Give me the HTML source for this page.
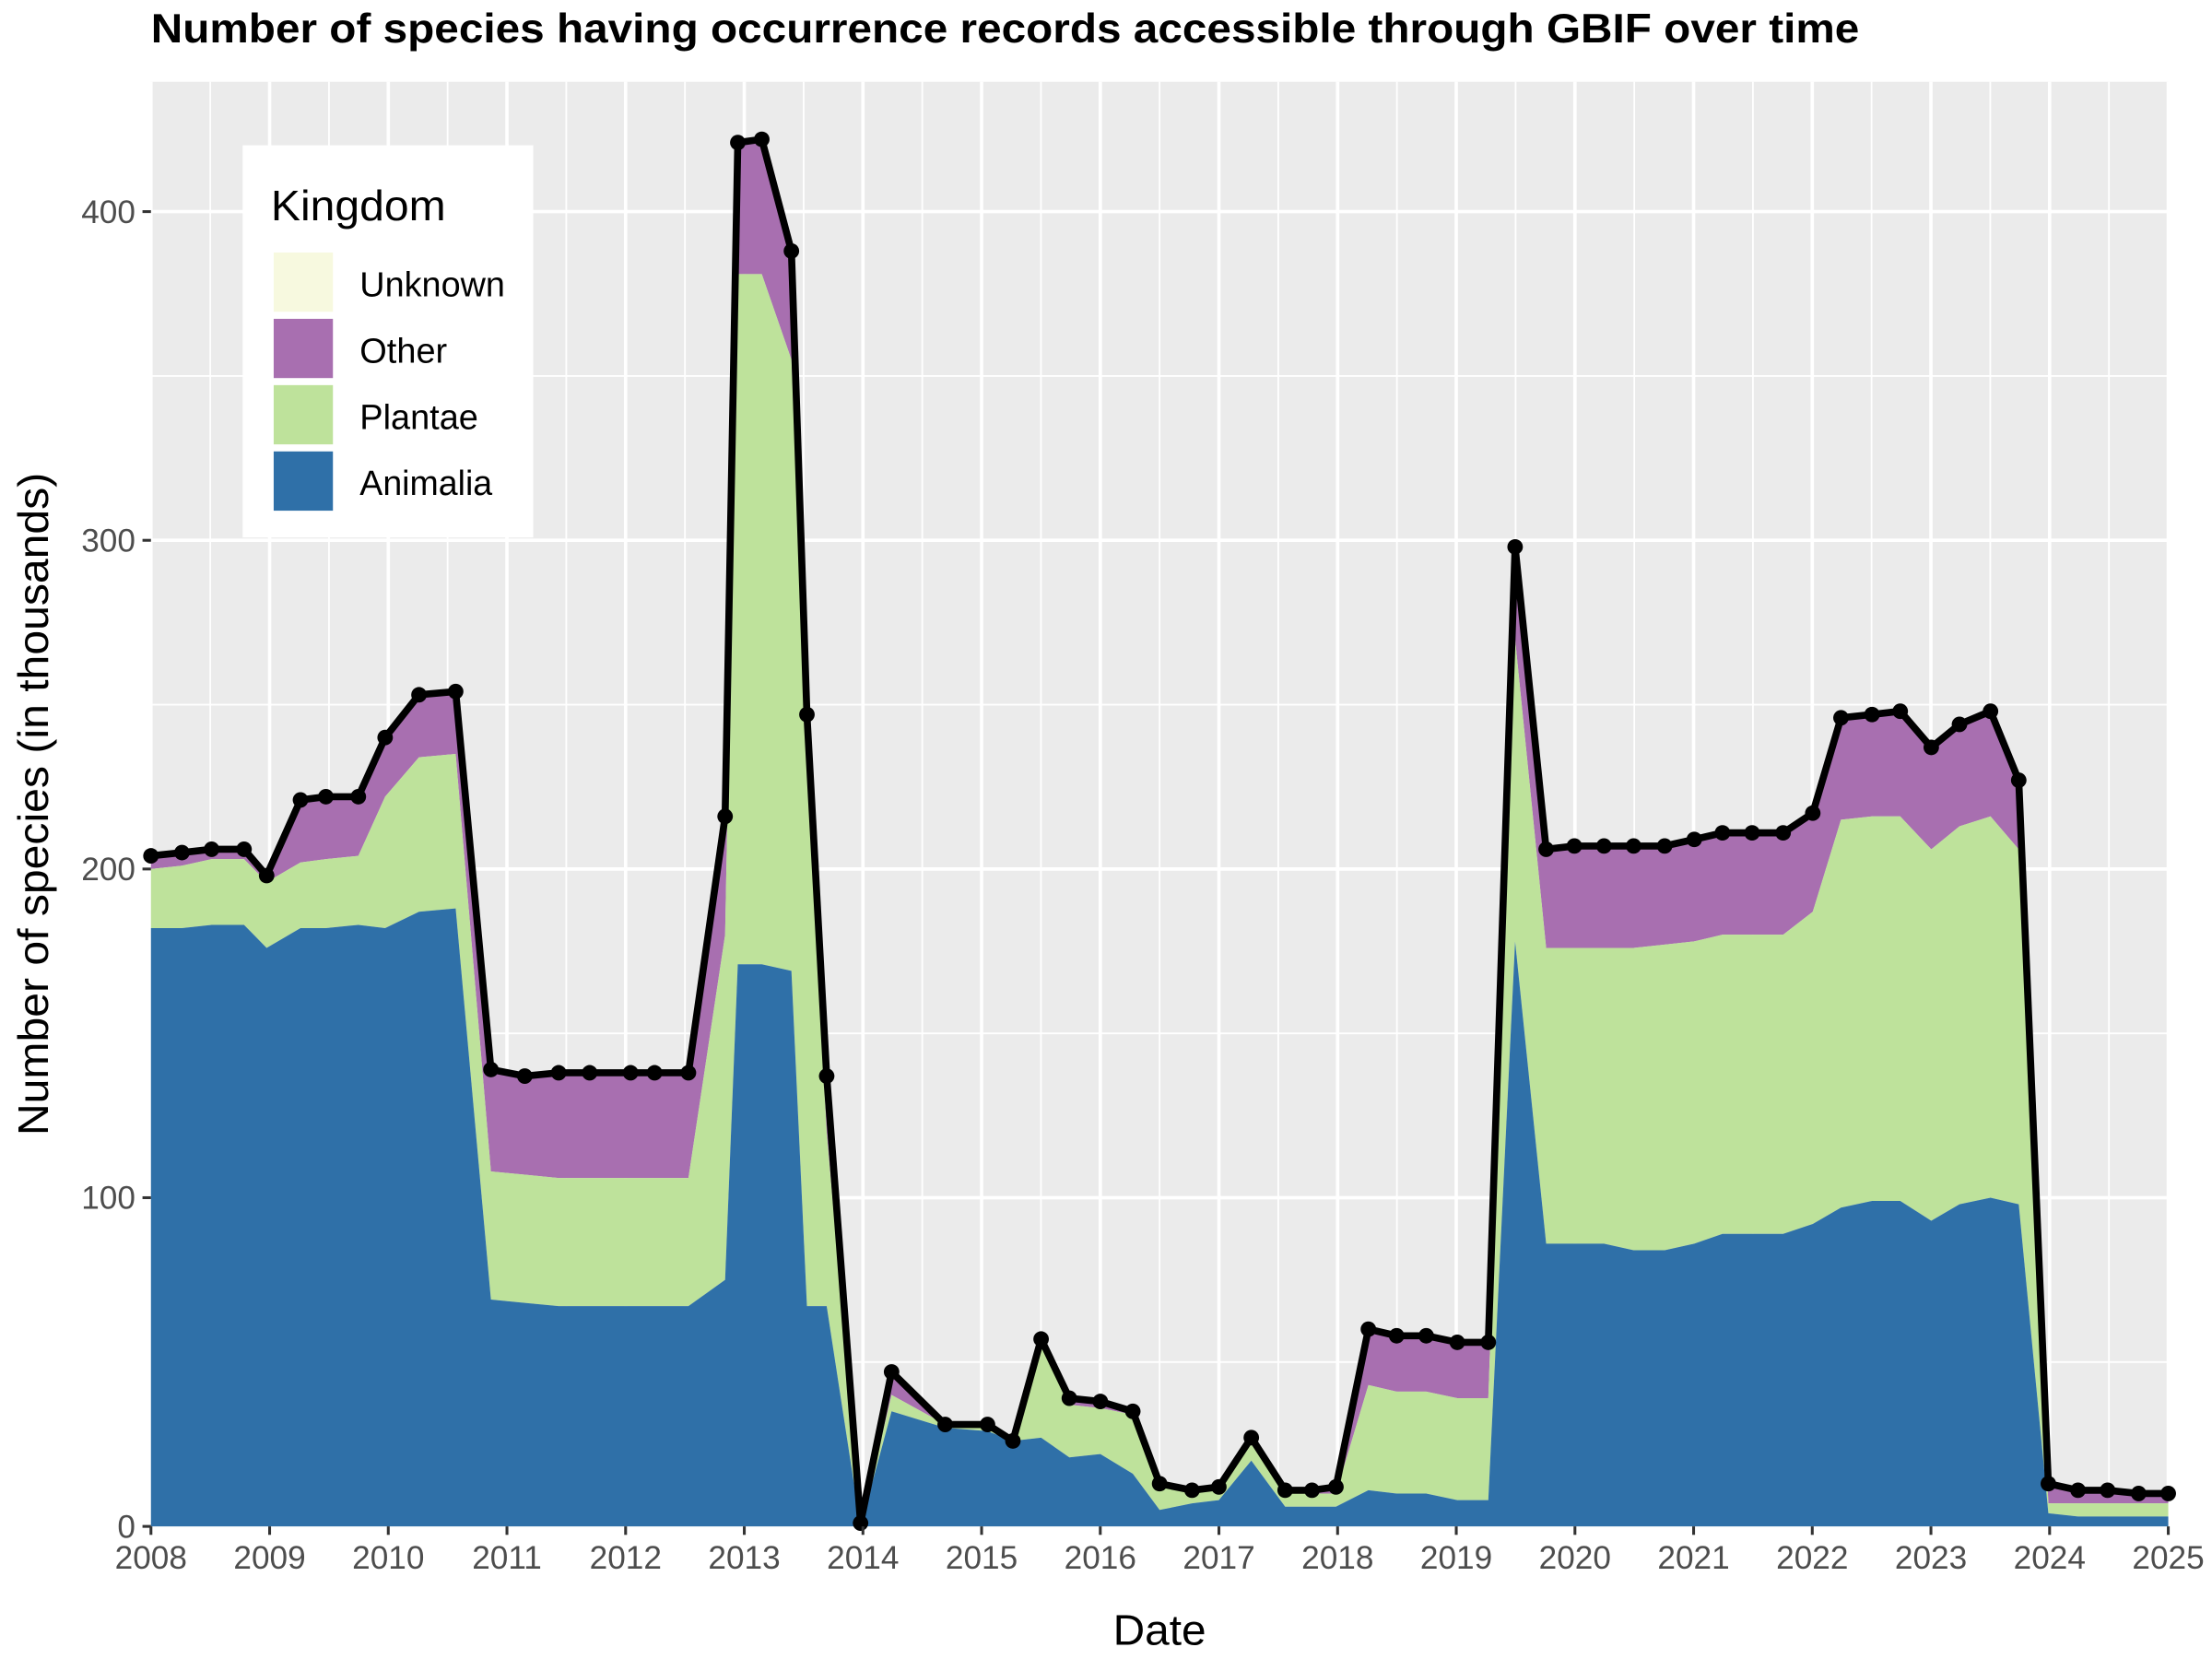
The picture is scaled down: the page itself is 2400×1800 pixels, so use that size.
<!DOCTYPE html>
<html><head><meta charset="utf-8"><style>
html,body{margin:0;padding:0;background:#fff;}
svg{display:block;}
text{font-family:"Liberation Sans",sans-serif;}
</style></head><body>
<svg id="s" width="2400" height="1800" viewBox="0 0 1568 1176" xmlns="http://www.w3.org/2000/svg">
<rect x="0" y="0" width="1568" height="1176" fill="#fff"/>
<rect x="107" y="58" width="1430" height="1024" fill="#ebebeb"/>
<g id="grid"></g>
<g id="areas"></g>
<g id="line"></g>
<g id="axes"></g>
<text x="107" y="30" font-size="29" font-weight="bold" fill="#000" textLength="1211" lengthAdjust="spacingAndGlyphs">Number of species having occurrence records accessible through GBIF over time</text>
<text x="822" y="1166" font-size="30" text-anchor="middle" fill="#000" textLength="66" lengthAdjust="spacingAndGlyphs">Date</text>
<text transform="translate(34,570) rotate(-90)" font-size="30" text-anchor="middle" fill="#000" textLength="470" lengthAdjust="spacingAndGlyphs">Number of species (in thousands)</text>
<rect x="172" y="103" width="206" height="278" fill="#fff"/>
<text x="192" y="156" font-size="30" fill="#000" textLength="124" lengthAdjust="spacingAndGlyphs">Kingdom</text>
<rect x="193" y="178" width="44" height="44" fill="#f7f9df" stroke="#fff" stroke-width="2"/>
<rect x="193" y="225" width="44" height="44" fill="#a86fb0" stroke="#fff" stroke-width="2"/>
<rect x="193" y="272" width="44" height="44" fill="#bee29b" stroke="#fff" stroke-width="2"/>
<rect x="193" y="319" width="44" height="44" fill="#2f70a8" stroke="#fff" stroke-width="2"/>
<text x="255" y="210" font-size="25" fill="#000" textLength="103" lengthAdjust="spacingAndGlyphs">Unknown</text>
<text x="255" y="257" font-size="25" fill="#000" textLength="62" lengthAdjust="spacingAndGlyphs">Other</text>
<text x="255" y="304" font-size="25" fill="#000" textLength="84" lengthAdjust="spacingAndGlyphs">Plantae</text>
<text x="255" y="351" font-size="25" fill="#000" textLength="94" lengthAdjust="spacingAndGlyphs">Animalia</text>
</svg>
<script>
var NS="http://www.w3.org/2000/svg";
function Y(v){return 1082-v*2.33;}
var X0=107,X1=1537;
var P=[[107,204,182,200],[129,205,182,201],[150,206,183,203],[173,206,183,203],[189,198,176,196],[213,221,182,202],[231,222,182,203],[254,222,183,204],[273,240,182,222],[297,253,187,234],[323,254,188,235],[348,139,69,108],[372,137,68,107],[396,138,67,106],[418,138,67,106],[447,138,67,106],[464,138,67,106],[488,138,67,106],[514,216,75,180],[523,421,171,381],[540,422,171,381],[561,388,169,355],[572,247,67,230],[586,137,67,120],[610,1,0,0],[632,47,35,40],[670,31,30,31],[700,31,29,30],[718,26,26,26],[738,57,27,55],[758,39,21,37],[780,38,22,36],[803,35,16,34],[822,13,5,12],[845,11,7,10],[864,12,8,11],[887,27,20,25],[911,11,6,10],[930,11,6,10],[947,12,6,10],[970,60,11,43],[990,58,10,41],[1011,58,10,41],[1033,56,8,39],[1055,56,8,39],[1074,298,178,270],[1096,206,86,176],[1116,207,86,176],[1137,207,86,176],[1158,207,84,176],[1180,207,84,177],[1201,209,86,178],[1221,211,89,180],[1242,211,89,180],[1264,211,89,180],[1285,217,92,187],[1305,246,97,215],[1327,247,99,216],[1347,248,99,216],[1369,237,93,206],[1389,244,98,213],[1411,248,100,216],[1431,227,98,206],[1452,13,4,7],[1473,11,3,7],[1494,11,3,7],[1516,10,3,7],[1537,10,3,7]];
var n=P.length;
var xs=P.map(function(p){return p[0]}),tot=P.map(function(p){return p[1]}),an=P.map(function(p){return p[2]}),pl=P.map(function(p){return p[3]});
function el(t,a,p){var e=document.createElementNS(NS,t);for(var k in a)e.setAttribute(k,a[k]);p.appendChild(e);return e;}
var g=document.getElementById("grid");
var yr=(X1-X0)/17;
for(var i=0;i<17;i++){var x=X0+yr*(i+0.5);el("line",{x1:x,x2:x,y1:58,y2:1082,stroke:"#fff","stroke-width":1.2},g);}
for(var v=50;v<450;v+=100){el("line",{x1:107,x2:1537,y1:Y(v),y2:Y(v),stroke:"#fff","stroke-width":1.2},g);}
for(var i=0;i<=17;i++){var x=X0+yr*i;el("line",{x1:x,x2:x,y1:58,y2:1082,stroke:"#fff","stroke-width":2.4},g);}
for(var v=0;v<=400;v+=100){el("line",{x1:107,x2:1537,y1:Y(v),y2:Y(v),stroke:"#fff","stroke-width":2.4},g);}
function area(top,bot,col){var d="M"+xs[0]+","+Y(top[0]);for(var i=1;i<n;i++)d+="L"+xs[i]+","+Y(top[i]);for(var i=n-1;i>=0;i--)d+="L"+xs[i]+","+Y(bot[i]);d+="Z";el("path",{d:d,fill:col},document.getElementById("areas"));}
var zero=xs.map(function(){return 0});
area(tot,pl,"#a86fb0");
area(pl,an,"#bee29b");
area(an,zero,"#2f70a8");
var L=document.getElementById("line");
var d="M"+xs[0]+","+Y(tot[0]);for(var i=1;i<n;i++)d+="L"+xs[i]+","+Y(tot[i]);
el("path",{d:d,fill:"none",stroke:"#000","stroke-width":5,"stroke-linejoin":"round"},L);
for(var i=0;i<n;i++)el("circle",{cx:xs[i],cy:Y(tot[i]),r:5.5,fill:"#000"},L);
var A=document.getElementById("axes");
for(var v=0;v<=400;v+=100){el("line",{x1:101,x2:107,y1:Y(v),y2:Y(v),stroke:"#333","stroke-width":2},A);var t=el("text",{x:96,y:Y(v)+8,"font-size":23,"text-anchor":"end",fill:"#4d4d4d"},A);t.textContent=v;}
for(var i=0;i<=17;i++){var x=X0+yr*i;el("line",{x1:x,x2:x,y1:1082,y2:1088,stroke:"#333","stroke-width":2},A);var t=el("text",{x:x,y:1112,"font-size":23,"text-anchor":"middle",fill:"#4d4d4d"},A);t.textContent=2008+i;}
</script>
</body></html>
